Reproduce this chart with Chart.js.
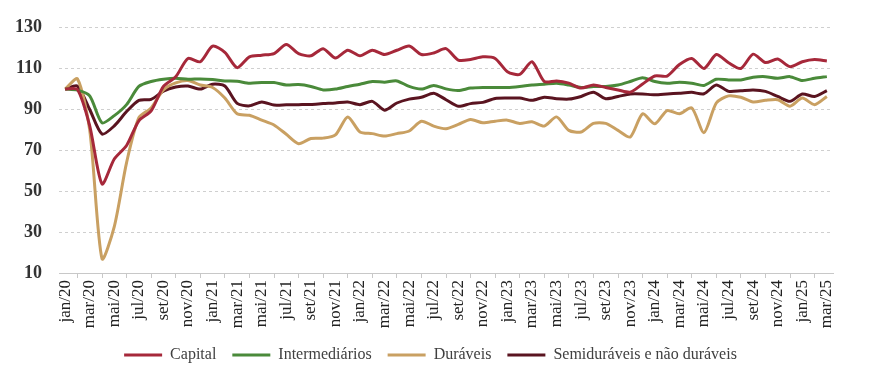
<!DOCTYPE html>
<html>
<head>
<meta charset="utf-8">
<script src="https://cdn.jsdelivr.net/npm/chart.js@4"></script>
<style>
  html, body { margin: 0; padding: 0; background: #fff; }
  #wrap { width: 870px; height: 373px; position: relative; }
</style>
</head>
<body>
<div id="wrap"><canvas id="chart"></canvas></div>
<script>
var meses = [
  'jan/20','fev/20','mar/20','abr/20','mai/20','jun/20','jul/20','ago/20','set/20','out/20','nov/20','dez/20',
  'jan/21','fev/21','mar/21','abr/21','mai/21','jun/21','jul/21','ago/21','set/21','out/21','nov/21','dez/21',
  'jan/22','fev/22','mar/22','abr/22','mai/22','jun/22','jul/22','ago/22','set/22','out/22','nov/22','dez/22',
  'jan/23','fev/23','mar/23','abr/23','mai/23','jun/23','jul/23','ago/23','set/23','out/23','nov/23','dez/23',
  'jan/24','fev/24','mar/24','abr/24','mai/24','jun/24','jul/24','ago/24','set/24','out/24','nov/24','dez/24',
  'jan/25','fev/25','mar/25'
];

var capital = [
  100, 99.8, 82, 53.6, 65.8, 72.4, 84.5, 89.3, 101.3, 106, 115, 113.4,
  121, 118, 110.5, 115.8, 116.6, 117.4, 121.8, 117.4, 116.3, 119.8, 115.2, 119,
  116.3, 119, 116.9, 119, 121.1, 116.9, 117.7, 119.8, 114.2, 114.5, 115.8, 115,
  108.5, 107.2, 113.4, 103.7, 104, 102.9, 100.5, 102, 100.8, 99.6, 98.5, 102.5,
  106.4, 106.4, 112, 115, 110.1, 116.9, 112.9, 110.1, 117.1, 113, 114.7, 111,
  113.4, 114.5, 113.7
];

var intermediarios = [
  100, 99.5, 96.7, 83.5, 87, 92.4, 101.3, 103.7, 104.8, 105.3, 104.8, 105,
  104.7, 104, 103.8, 102.9, 103.2, 103.2, 102, 102.2, 101.3, 99.6, 100, 101.3,
  102.4, 103.7, 103.4, 104, 101.3, 100, 101.8, 100.1, 99.3, 100.5, 100.8, 100.8,
  100.8, 101.3, 102, 102.4, 102.9, 102, 100.8, 101.3, 101.3, 102, 103.7, 105.6,
  103.7, 102.9, 103.4, 102.9, 101.8, 104.8, 104.5, 104.5, 105.8, 106.1, 105.3, 106.1,
  104.2, 105.3, 106.1
];

var duraveis = [
  100, 105, 80, 17, 32.7, 64, 86, 90.8, 99.6, 103, 104.2, 102,
  100.8, 95.6, 87.9, 87.2, 84.8, 82.4, 77.9, 73.3, 75.8, 76, 77.6, 86.4,
  79, 78.2, 77, 78.2, 79.5, 84.3, 81.9, 80.6, 82.7, 85.1, 83.5, 84.3,
  84.8, 83.2, 84, 81.9, 86.4, 79.8, 79, 83.2, 83.2, 79.8, 76.6, 87.9,
  83, 89.5, 87.9, 90.8, 78.7, 93.2, 96.7, 96, 93.7, 94.5, 94.8, 91.6,
  95.6, 92.4, 96.4
];

var semiduraveis = [
  100, 101.5, 90, 78, 82, 89, 94.5, 95, 99, 101, 101.5, 100,
  102.4, 101.5, 93, 91.8, 93.7, 92.2, 92.3, 92.4, 92.5, 92.9, 93.2, 93.7,
  92.4, 94, 89.7, 93.2, 95.1, 96, 98, 94.8, 91.6, 92.9, 93.5, 95.4,
  95.6, 95.6, 94.5, 96, 95.3, 95.1, 96.4, 98.5, 95.3, 96.4, 97.6, 97.6,
  97.2, 97.6, 98, 98.4, 97.7, 102, 98.9, 99.2, 99.6, 98.9, 96.4, 94,
  97.6, 96.4, 99.2
];

var serif = '"Liberation Serif", "Times New Roman", serif';

function serie(label, values, color) {
  return {
    label: label,
    data: values,
    borderColor: color,
    backgroundColor: color,
    borderWidth: 3,
    pointRadius: 0,
    pointHoverRadius: 0,
    tension: 0.25,
    fill: false
  };
}

// legend box is shorter than Chart.js wants, so the x labels keep their room;
// it is also nudged a bit to the right like in the original
var legendFit = {
  id: 'legendFit',
  beforeUpdate: function (chart) {
    var lg = chart.legend;
    if (!lg || lg._patched) return;
    var fit = lg.fit;
    lg.fit = function () {
      fit.call(this);
      this.height = 42;
    };
    lg._patched = true;
  },
  afterLayout: function (chart) {
    var lg = chart.legend;
    if (!lg) return;
    lg.left += 14;
    lg.right += 14;
  }
};

new Chart(document.getElementById('chart'), {
  type: 'line',
  data: {
    labels: meses,
    datasets: [
      serie('Capital', capital, '#a6283a'),
      serie('Intermediários', intermediarios, '#4a8a3a'),
      serie('Duráveis', duraveis, '#c9a062'),
      serie('Semiduráveis e não duráveis', semiduraveis, '#5a1420')
    ]
  },
  options: {
    responsive: true,
    maintainAspectRatio: false,
    animation: false,
    layout: { padding: { top: 21, right: 37, left: 0, bottom: 0 } },
    plugins: {
      legend: {
        position: 'bottom',
        labels: {
          font: { family: serif, size: 16 },
          color: '#404040',
          boxWidth: 38,
          boxHeight: 3,
          padding: 16,
          generateLabels: function (chart) {
            return chart.data.datasets.map(function (ds, i) {
              return {
                text: ds.label,
                fillStyle: ds.borderColor,
                strokeStyle: ds.borderColor,
                lineWidth: 0,
                fontColor: '#404040',
                datasetIndex: i,
                hidden: false
              };
            });
          }
        }
      },
      tooltip: { enabled: false }
    },
    scales: {
      x: {
        offset: true,
        afterFit: function (s) { s.height = 58; },
        grid: {
          offset: true,
          drawOnChartArea: false,
          drawTicks: true,
          tickLength: 5,
          color: '#c8c8c8'
        },
        border: { display: true, color: '#c8c8c8', width: 1 },
        ticks: {
          autoSkip: false,
          maxRotation: 90,
          minRotation: 90,
          padding: 2,
          color: '#222',
          font: { family: serif, size: 17 },
          callback: function (v, i) {
            return i % 2 === 0 ? meses[i] : null;
          }
        }
      },
      y: {
        min: 10,
        max: 130,
        afterFit: function (s) { s.width = 59; },
        grid: { color: '#cfcfcf', drawTicks: false },
        border: { display: false, dash: [3, 3] },
        ticks: {
          stepSize: 20,
          padding: 17,
          color: '#333',
          font: { family: serif, size: 18, weight: 'bold' }
        }
      }
    }
  },
  plugins: [legendFit]
});
</script>
</body>
</html>
